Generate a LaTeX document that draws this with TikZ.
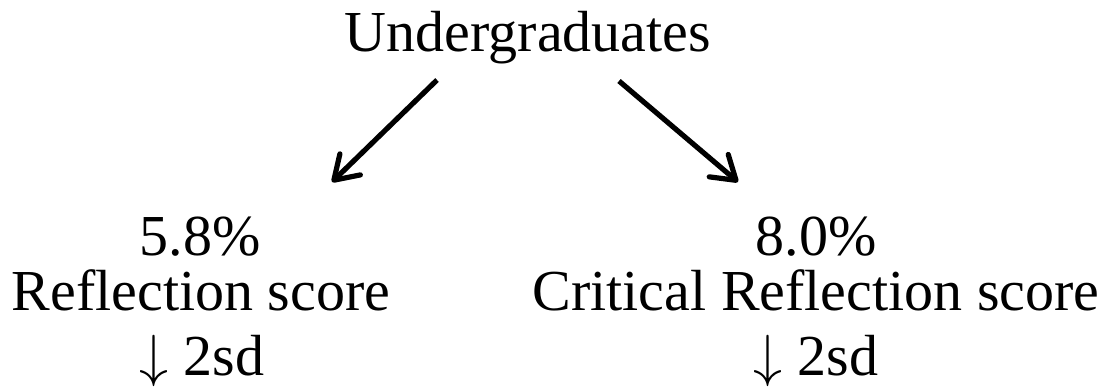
\RequirePackage{fix-cm}
\documentclass[tikz,border=0pt]{standalone}
\usepackage{fontspec}
\setmainfont{Liberation Serif}
\usetikzlibrary{arrows.meta}

\tikzset{every picture/.style={line width=0.75pt}}
\tikzset{lbl/.style={anchor=base, inner sep=0pt, font=\fontsize{43.5}{50}\selectfont}}
\tikzset{barb/.style={line width=3.9pt, -{Straight Barb[length=17pt,width=22pt,round]}}}

\begin{document}
\begin{tikzpicture}[x=0.75pt,y=0.75pt,yscale=-1,xscale=1]
\useasboundingbox (0,0) rectangle (1103,386);

%Top label
\node (und) at (528,51) [lbl] {Undergraduates};

%Left branch
\node (pl) at (200,255) [lbl] {5.8\%};
\node (rl) at (201,310) [lbl] {Reflection score};
\node (sl) at (202,375) [lbl] {$\downarrow$ 2sd};

%Right branch
\node (pr) at (816,255) [lbl] {8.0\%};
\node (rr) at (816,310) [lbl] {Critical Reflection score};
\node (sr) at (816,375) [lbl] {$\downarrow$ 2sd};

%Arrow ends
\coordinate (lfrom) at (437,80);
\coordinate (lto) at (332,182);
\coordinate (rfrom) at (619,81);
\coordinate (rto) at (738,182);

%Straight Lines
\draw [barb] (lfrom) -- (lto);
\draw [barb] (rfrom) -- (rto);

\end{tikzpicture}
\end{document}
